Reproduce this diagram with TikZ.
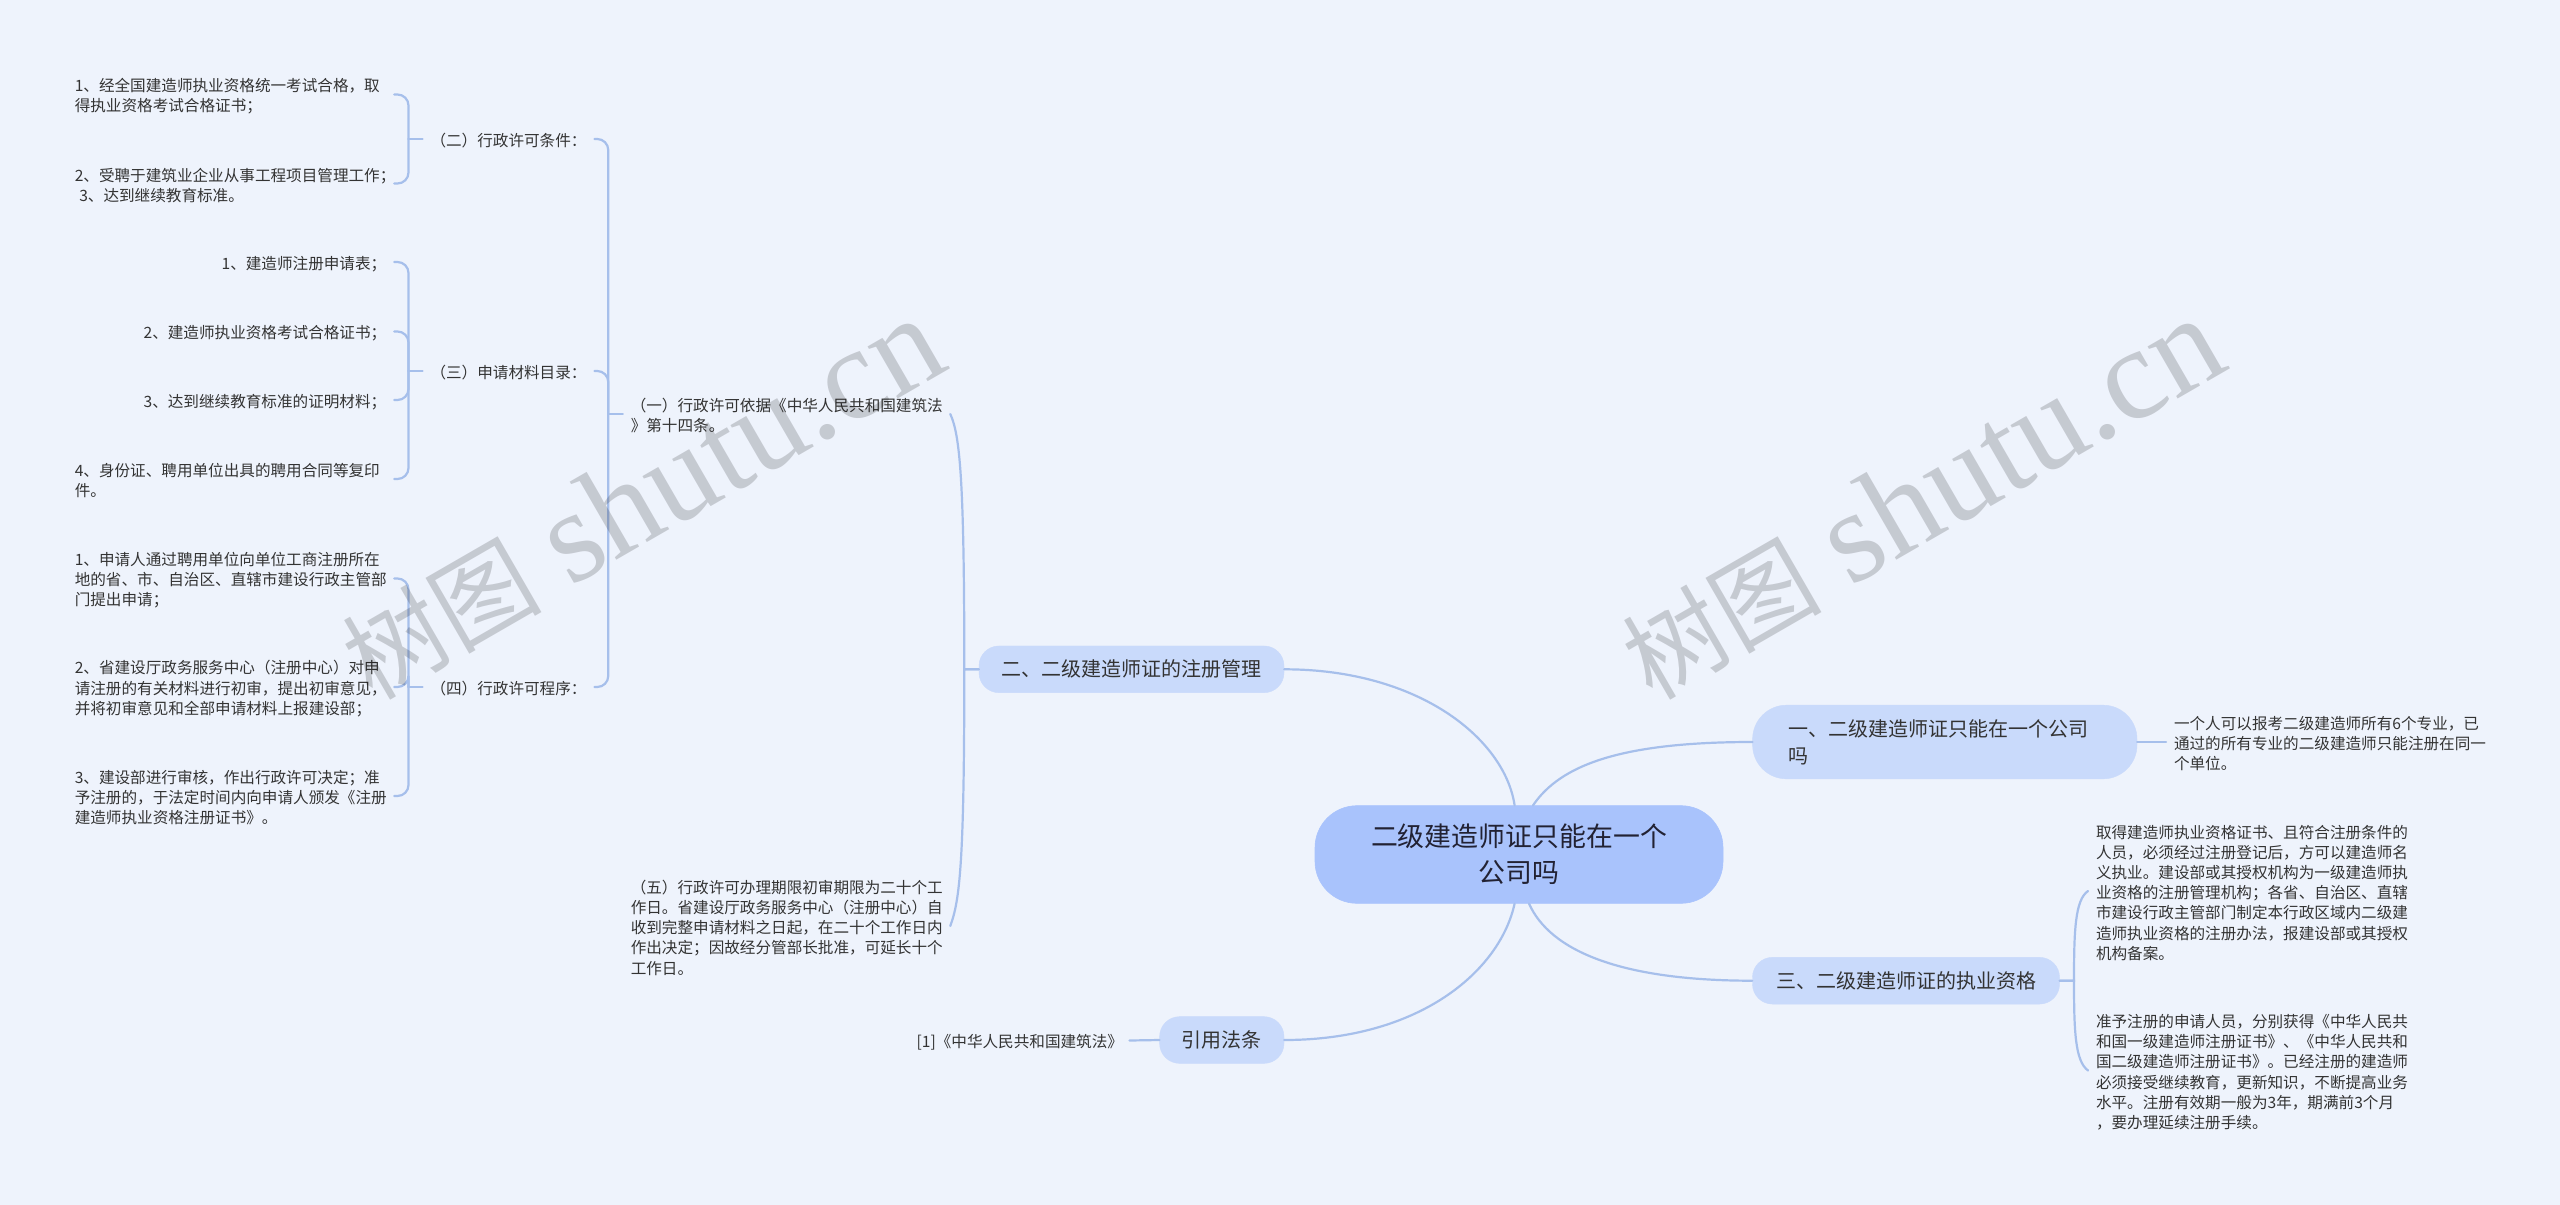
\documentclass[tikz,border=0pt]{standalone}
\usepackage{fontspec}
\setmainfont{Noto Sans CJK SC}
\newfontfamily\wmlatin{Liberation Serif}
\definecolor{bgc}{HTML}{EEF3FC}
\definecolor{rootc}{HTML}{A9C3FC}
\definecolor{subc}{HTML}{C9DAFB}
\definecolor{linec}{HTML}{A6BFEB}
\definecolor{txtc}{HTML}{333333}
\definecolor{headc}{HTML}{222233}
\tikzset{
  conn/.style={draw=linec,line width=2.2pt,line cap=round},
  brack/.style={conn,rounded corners=11pt},
  rootnode/.style={fill=rootc,draw=rootc,line width=0.6pt,rounded corners=42pt,minimum width=408pt,minimum height=97.6pt,inner sep=0pt,align=center,text=headc,font=\fontsize{26.9}{36}\selectfont},
  subnode/.style={fill=subc,draw=subc,line width=0.4pt,rounded corners=20pt,minimum height=46.7pt,inner sep=0pt,align=center,text=txtc,font=\fontsize{20}{27}\selectfont},
  txt/.style={inner sep=0pt,outer xsep=8pt,outer ysep=0pt,text=txtc,font=\fontsize{15.6}{20.2}\selectfont,execute at begin node={\rule{0pt}{16.7pt}}},
  leaf/.style={txt,text width=311.5pt,align=left},
  leafr/.style={txt,text width=311.5pt,align=right},
  head/.style={txt,text width=156pt,align=left}
}
\begin{document}
\begin{tikzpicture}[x=1pt,y=-1pt]
\path[fill=bgc] (0,0) rectangle (2560,1205);
\useasboundingbox (0,0) rectangle (2560,1205);

% main nodes
\node[rootnode] (root) at (1519,854.5) {二级建造师证只能在一个\\公司吗};
\node[subnode,minimum width=305pt] (n2) at (1131.5,669.3) {二、二级建造师证的注册管理};
\node[subnode,minimum width=124.4pt] (law) at (1221.8,1040) {引用法条};
\node[subnode,minimum width=384.4pt,minimum height=73.7pt,rounded corners=34pt,text width=312pt,align=left] (n1) at (1944.8,742) {一、二级建造师证只能在一个公司\\吗};
\node[subnode,minimum width=307pt] (n3) at (1906,980.7) {三、二级建造师证的执业资格};

% left: level 2
\node[leaf] (g1) at (786.5,414) {（一）行政许可依据《中华人民共和国建筑法\\》第十四条。};
\node[leaf] (g5) at (786.5,926) {（五）行政许可办理期限初审期限为二十个工\\作日。省建设厅政务服务中心（注册中心）自\\收到完整申请材料之日起，在二十个工作日内\\作出决定；因故经分管部长批准，可延长十个\\工作日。};

% left: level 3
\node[head] (h2) at (508.5,139) {（二）行政许可条件：};
\node[head] (h3) at (508.5,371) {（三）申请材料目录：};
\node[head] (h4) at (508.5,687) {（四）行政许可程序：};

% left: level 4
\node[leaf] (a1) at (230.5,94.5) {1、经全国建造师执业资格统一考试合格，取\\得执业资格考试合格证书；};
\node[leaf] (a2) at (230.5,183.5) {2、受聘于建筑业企业从事工程项目管理工作；\\\hspace*{4.5pt}3、达到继续教育标准。};
\node[leafr] (b1) at (230.5,262) {1、建造师注册申请表；};
\node[leafr] (b2) at (230.5,331.5) {2、建造师执业资格考试合格证书；};
\node[leafr] (b3) at (230.5,400) {3、达到继续教育标准的证明材料；};
\node[leaf] (b4) at (230.5,479) {4、身份证、聘用单位出具的聘用合同等复印\\件。};
\node[leaf] (c1) at (230.5,578.5) {1、申请人通过聘用单位向单位工商注册所在\\地的省、市、自治区、直辖市建设行政主管部\\门提出申请；};
\node[leaf] (c2) at (230.5,687) {2、省建设厅政务服务中心（注册中心）对申\\请注册的有关材料进行初审，提出初审意见，\\并将初审意见和全部申请材料上报建设部；};
\node[leaf] (c3) at (230.5,796) {3、建设部进行审核，作出行政许可决定；准\\予注册的，于法定时间内向申请人颁发《注册\\建造师执业资格注册证书》。};

% law leaf
\node[txt,outer xsep=6.5pt,anchor=east] (ref) at (1129.5,1040.5) {[1]《中华人民共和国建筑法》};

% right leaves
\node[leaf] (r1) at (2329.75,742) {一个人可以报考二级建造师所有6个专业，已\\通过的所有专业的二级建造师只能注册在同一\\个单位。};
\node[leaf] (q1) at (2251.75,891) {取得建造师执业资格证书、且符合注册条件的\\人员，必须经过注册登记后，方可以建造师名\\义执业。建设部或其授权机构为一级建造师执\\业资格的注册管理机构；各省、自治区、直辖\\市建设行政主管部门制定本行政区域内二级建\\造师执业资格的注册办法，报建设部或其授权\\机构备案。};
\node[leaf] (q2) at (2251.75,1070.5) {准予注册的申请人员，分别获得《中华人民共\\和国一级建造师注册证书》、《中华人民共和\\国二级建造师注册证书》。已经注册的建造师\\必须接受继续教育，更新知识，不断提高业务\\水平。注册有效期一般为3年，期满前3个月\\，要办理延续注册手续。};

% root connectors
\draw[conn] ([xshift=-4.4pt]root.north) .. controls +(-9.6,-65.7) and (1420,669.3) .. (n2.east);
\draw[conn] ([xshift=-4.4pt]root.south) .. controls +(-14.6,67) and (1420,1040) .. (law.east);
\draw[conn] ([xshift=14pt]root.north) .. controls +(27,-40) and (1620,742) .. (n1.west);
\draw[conn] ([xshift=10pt]root.south) .. controls +(21,47) and (1620,980.7) .. (n3.west);

% branch connectors
\draw[conn] (n1.east) -- (r1.west);
\draw[conn] (law.west) -- (ref.east);
\draw[conn] (n3.east) -- ++(14.3,0) .. controls +(0,-50) and (2075,900) .. (q1.west);
\draw[conn] (n3.east) -- ++(14.3,0) .. controls +(0,50) and (2075,1061) .. (q2.west);
\draw[conn] (n2.west) -- ++(-14.5,0) .. controls +(0,-189) and (960,435) .. (g1.east);
\draw[conn] (n2.west) -- ++(-14.5,0) .. controls +(0,191) and (960,900) .. (g5.east);

% brackets: a straight stub from the parent, then children rounded off the spine
\draw[conn] (g1.west) -- ++(-14.5,0) coordinate (sp1);
\draw[conn] (h2.west) -- ++(-14,0) coordinate (sp2);
\draw[conn] (h3.west) -- ++(-14,0) coordinate (sp3);
\draw[conn] (h4.west) -- ++(-14,0) coordinate (sp4);
\foreach \c in {h2,h3,h4} \draw[brack] (sp1) |- (\c.east);
\foreach \c in {a1,a2} \draw[brack] (sp2) |- (\c.east);
\foreach \c in {b1,b2,b3,b4} \draw[brack] (sp3) |- (\c.east);
\foreach \c in {c1,c2,c3} \draw[brack] (sp4) |- (\c.east);

% watermarks
\foreach \dx/\nm in {0/wmr,-1280/wml}
  \node[anchor=base west,rotate=30,inner sep=0pt,text=black,text opacity=0.17] (\nm) at (1652+\dx,702) {\fontsize{100}{100}\selectfont 树图\hspace{29pt}\wmlatin\fontsize{131}{131}\selectfont shutu.cn};
\end{tikzpicture}
\end{document}
